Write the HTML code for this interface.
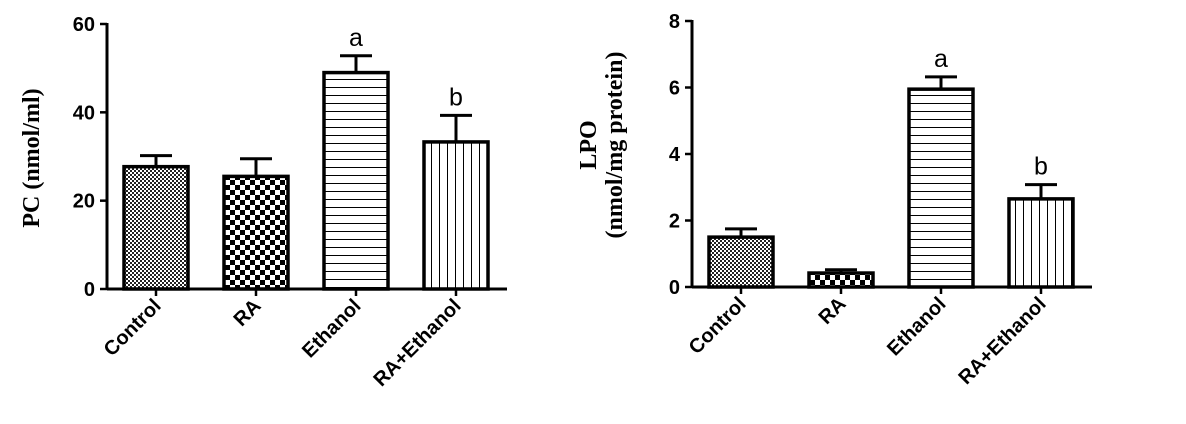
<!DOCTYPE html>
<html><head><meta charset="utf-8"><style>
body{margin:0;background:#fff}
svg{display:block}
text{font-family:"Liberation Sans",Arial,sans-serif;font-weight:bold;fill:#000}
</style></head><body>
<svg id="svg" width="1186" height="424" viewBox="0 0 1186 424">
<defs>
<pattern id="pFine" width="4" height="4" patternUnits="userSpaceOnUse"><rect width="4" height="4" fill="#fff"/><rect width="2" height="2" fill="#222"/><rect x="2" y="2" width="2" height="2" fill="#222"/></pattern>
<pattern id="pCoarse" width="10" height="10" patternUnits="userSpaceOnUse"><rect width="10" height="10" fill="#fff"/><rect width="5" height="5" fill="#000"/><rect x="5" y="5" width="5" height="5" fill="#000"/></pattern>
<pattern id="pH" width="8" height="8" patternUnits="userSpaceOnUse"><rect width="8" height="8" fill="#fff"/><rect y="7" width="8" height="1" fill="#000"/></pattern>
<pattern id="pV" width="8" height="8" patternUnits="userSpaceOnUse"><rect width="8" height="8" fill="#fff"/><rect x="7" width="1" height="8" fill="#000"/></pattern>
</defs>
</svg>
<script>
const categories=["Control","RA","Ethanol","RA+Ethanol"];
const pcValues=[27.7,25.5,49,33.3];
const pcErrors=[2.5,4.0,3.8,6.0];
const pcTicks=[0,20,40,60];
const pcLetters=["","","a","b"];
const lpoValues=[1.5,0.42,5.95,2.65];
const lpoErrors=[0.25,0.1,0.37,0.43];
const lpoTicks=[0,2,4,6,8];
const lpoLetters=["","","a","b"];
const fills=["url(#pFine)","url(#pCoarse)","url(#pH)","url(#pV)"];
const NS="http://www.w3.org/2000/svg";
const svg=document.getElementById('svg');
function mk(tag,attrs,parent){const e=document.createElementNS(NS,tag);for(const k in attrs)e.setAttribute(k,attrs[k]);(parent||svg).appendChild(e);return e;}
function drawChart(o){
  const g=mk('g',{});
  
  
  const y=v=>o.y0-(v/o.max)*(o.y0-o.yTop);
  const x=i=>o.xFirst+i*100;
  categories.forEach((c,i)=>{
    const cx=x(i),top=y(o.values[i]),et=y(o.values[i]+o.errors[i]);
    const eb=mk('line',{x1:cx,x2:cx,y1:top,y2:et,stroke:'#000','stroke-width':3},g);
    
    
    const cap=mk('line',{x1:cx-16,x2:cx+16,y1:et,y2:et,stroke:'#000','stroke-width':3},g);
    
    
    const r=mk('rect',{x:cx-32,y:top,width:64,height:o.y0-top,fill:fills[i],stroke:'#000','stroke-width':3.5},g);
    
    
    if(o.letters[i]){const t=mk('text',{x:cx,y:et-10,'text-anchor':'middle','font-size':25,style:'font-weight:normal'},g);t.textContent=o.letters[i];
      
      }
    const tk=mk('line',{x1:cx,x2:cx,y1:o.y0,y2:o.y0+7,stroke:'#000','stroke-width':2.5},g);
    
    
    const lb=mk('text',{x:0,y:0,'text-anchor':'end','font-size':20,transform:`translate(${cx+6},${o.y0+18}) rotate(-45)`},g);
    lb.textContent=c;
    
    
  });
  const ya=mk('line',{x1:o.xAxis,x2:o.xAxis,y1:o.yTop-1,y2:o.y0+1,stroke:'#000','stroke-width':3},g);
  
  
  const xa=mk('line',{x1:o.xAxis,x2:o.xAxis+400,y1:o.y0,y2:o.y0,stroke:'#000','stroke-width':3},g);
  
  
  o.ticks.forEach(t=>{
    const l=mk('line',{x1:o.xAxis-7,x2:o.xAxis,y1:y(t),y2:y(t),stroke:'#000','stroke-width':2.5},g);
    
    
    const tx=mk('text',{x:o.xAxis-12,y:y(t)+7,'text-anchor':'end','font-size':20},g);
    tx.textContent=t;
    
    
  });
  o.title.forEach((line,k)=>{
    const tt=mk('text',{x:0,y:0,'text-anchor':'middle','font-size':24,style:'font-family:"Liberation Serif",serif',transform:`translate(${o.titleX+k*26},${o.titleY}) rotate(-90)`},g);
    tt.textContent=line;
    
    
  });
}
drawChart({name:'pc-chart',values:pcValues,errors:pcErrors,ticks:pcTicks,letters:pcLetters,max:60,y0:289,yTop:24,xAxis:107,xFirst:156,title:["PC (nmol/ml)"],titleX:39,titleY:158});
drawChart({name:'lpo-chart',values:lpoValues,errors:lpoErrors,ticks:lpoTicks,letters:lpoLetters,max:8,y0:287,yTop:21,xAxis:692,xFirst:741,title:["LPO","(nmol/mg protein)"],titleX:596,titleY:145});
</script>
</body></html>
